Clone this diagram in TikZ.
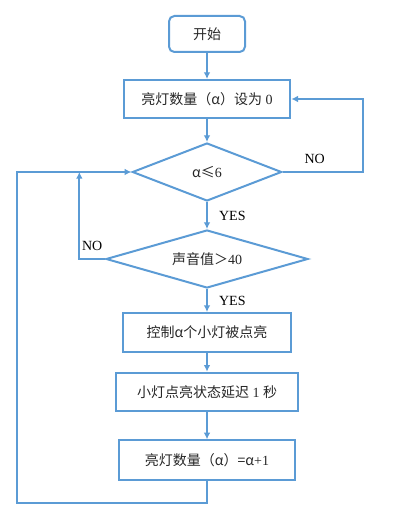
\documentclass[tikz,border=0pt]{standalone}
\usepackage{fontspec}
\setmainfont{Liberation Serif}
\newfontfamily\cjk{Noto Sans CJK SC}
\usetikzlibrary{arrows.meta,positioning,calc,shapes.geometric}
\definecolor{flowblue}{HTML}{5B9BD5}

\begin{document}
\begin{tikzpicture}[x=0.75pt,y=-0.75pt,>={Latex[length=5pt,width=5pt]},font=\fontsize{10.5}{12}\selectfont]
  \tikzstyle{box}=[draw=flowblue,line width=1.5pt,minimum height=29pt,align=center,inner sep=2pt,text=black!85]
  \tikzstyle{test}=[draw=flowblue,line width=1.5pt,diamond,inner sep=0pt,minimum height=43.5pt,text=black!85]
  \tikzstyle{line}=[draw=flowblue,line width=1.5pt]
  \useasboundingbox (0,0) rectangle (416,523);
  \node[box,rounded corners=4pt,minimum width=57pt,minimum height=27pt] (start) at (207,34) {\cjk 开始};
  \node[box,minimum width=125pt,minimum height=28.5pt,below=19.5pt of start] (reset) {{\cjk 亮灯数量（α）设为} 0};
  \node[test,aspect=2.57,minimum width=112pt,below=17.25pt of reset] (count) {{\cjk α≤}6};
  \node[test,aspect=3.48,minimum width=151.5pt,below=20.25pt of count] (sound) {{\cjk 声音值＞}40};
  \node[box,minimum width=126pt,below=17.25pt of sound] (light) {\cjk 控制α个小灯被点亮};
  \node[box,minimum width=136.5pt,below=14.25pt of light] (delay) {{\cjk 小灯点亮状态延迟} 1 {\cjk 秒}};
  \node[box,minimum width=132pt,minimum height=30pt,below=20.25pt of delay] (incr) {{\cjk 亮灯数量（α）=α}+1};
  \coordinate (inner) at ($(count.west)+(-52,0)$);
  \coordinate (outer) at ($(count.west)+(-114,0)$);
  \draw[line,->] (start) -- (reset);
  \draw[line,->] (reset) -- (count);
  \draw[line,->] (count) -- node[right=5pt,text=black]{YES} (sound);
  \draw[line,->] (sound) -- node[right=5pt,text=black]{YES} (light);
  \draw[line,->] (light) -- (delay);
  \draw[line,->] (delay) -- (incr);
  % NO branches
  \draw[line,->] (count.east) -- node[above=2pt,pos=0.4,text=black]{NO} ++(80,0) |- (reset.east);
  \draw[line,->] (sound.west) -- node[above=2pt,text=black]{NO} (sound.west -| inner) -- (inner);
  % back to the test
  \draw[line,->] (incr.south) -- ++(0,22) -| (outer) -- (count.west);
\end{tikzpicture}
\end{document}
